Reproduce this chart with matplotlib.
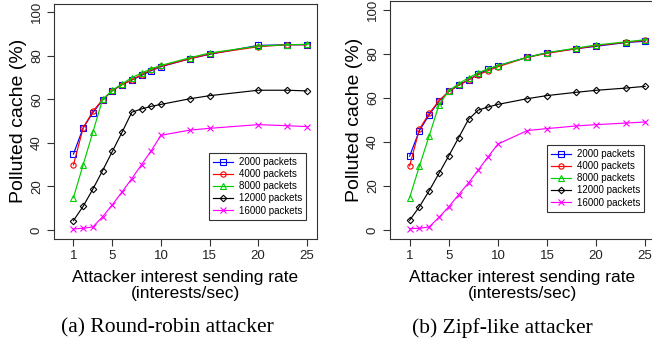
import numpy as np
import matplotlib.pyplot as plt

W, H = 652, 345

rates_a = [1, 2, 3, 4, 5, 6, 7, 8, 9, 10, 13, 15, 20, 23, 25]
rr_2000 = [34.9, 46.9, 53.9, 59.7, 64.0, 66.8, 68.9, 71.0, 73.2, 75.0, 78.7, 80.7, 84.8, 85.1, 85.1]
rr_4000 = [29.9, 46.9, 54.5, 59.9, 64.0, 66.8, 69.0, 71.4, 73.5, 75.2, 78.7, 80.9, 84.2, 85.1, 85.1]
rr_8000 = [14.9, 30.0, 45.0, 60.0, 64.2, 67.1, 70.0, 72.1, 74.1, 75.6, 79.2, 81.3, 84.5, 85.1, 85.3]
rr_12000 = [4.3, 10.9, 18.8, 27.3, 36.1, 44.9, 54.1, 55.6, 56.8, 57.7, 60.3, 61.7, 64.2, 64.2, 63.9]
rr_16000 = [0.5, 0.8, 1.4, 6.1, 11.6, 17.5, 23.6, 30.0, 36.4, 43.5, 45.9, 46.7, 48.4, 47.9, 47.5]

rates_b = [1, 2, 3, 4, 5, 6, 7, 8, 9, 10, 13, 15, 18, 20, 23, 25]
zp_2000 = [33.6, 45.2, 52.4, 58.6, 63.0, 65.8, 68.2, 70.9, 73.0, 74.7, 78.5, 80.6, 82.4, 83.5, 85.2, 85.8]
zp_4000 = [29.1, 45.9, 53.0, 58.8, 63.0, 65.8, 68.2, 70.6, 72.4, 74.2, 78.5, 80.3, 82.4, 83.8, 85.3, 86.2]
zp_8000 = [14.7, 29.1, 42.9, 57.0, 63.3, 66.5, 69.2, 71.5, 73.3, 74.7, 78.5, 80.6, 82.7, 84.1, 85.5, 86.5]
zp_12000 = [4.4, 10.6, 17.9, 25.8, 33.8, 42.0, 50.3, 54.5, 55.9, 57.1, 59.7, 61.1, 62.6, 63.5, 64.5, 65.3]
zp_16000 = [0.6, 0.8, 1.4, 5.8, 10.6, 16.1, 21.4, 27.3, 33.3, 39.1, 45.2, 46.1, 47.3, 47.9, 48.6, 49.1]

labels = ["2000 packets", "4000 packets", "8000 packets", "12000 packets", "16000 packets"]
colors = ["#0000ff", "#ff0000", "#00cd00", "#000000", "#ff00ff"]
markers = ["s", "o", "^", "D", "x"]
msizes = [3.8, 3.8, 4.5, 3.3, 3.8]

plt.rcParams['font.family'] = ['Liberation Sans', 'DejaVu Sans']


def px_axes(fig, left, right, top, bottom):
    return fig.add_axes([left / W, 1 - bottom / H, (right - left) / W, (bottom - top) / H])


def panel(ax, x, series, leg_box):
    for y, lab, c, m, ms in zip(series, labels, colors, markers, msizes):
        ax.plot(x, y, color=c, marker=m, markersize=ms, markerfacecolor='none',
                markeredgewidth=0.8, linewidth=0.85, label=lab)
    ax.set_xlim(-1, 26)
    ax.set_ylim(-4, 104)
    ax.set_xticks([1, 5, 10, 15, 20, 25])
    ax.set_yticks([0, 20, 40, 60, 80, 100])
    ax.tick_params(labelsize=9.5, length=5, width=0.8, direction='out', pad=3,
                   colors='#333333', labelcolor='#222222')
    for t in ax.get_yticklabels():
        t.set_rotation(90)
        t.set_va('center')
    for s in ax.spines.values():
        s.set_linewidth(0.8)
        s.set_color('#333333')
    ax.set_xlabel("Attacker interest sending rate\n(interests/sec)", fontsize=12.5,
                  linespacing=1.05, labelpad=6)
    ax.set_ylabel("Polluted cache (%)", fontsize=14, labelpad=3)
    leg = ax.legend(loc='lower left', bbox_to_anchor=leg_box, fontsize=7,
                    fancybox=False, edgecolor='#333333', framealpha=1,
                    borderpad=0.45, labelspacing=0.22, handlelength=2.0,
                    handletextpad=0.6, borderaxespad=0)
    leg.get_frame().set_linewidth(0.8)


fig = plt.figure(figsize=(W / 100, H / 100), dpi=100)

ax1 = px_axes(fig, 54, 316.5, 3.6, 238.7)
panel(ax1, rates_a, [rr_2000, rr_4000, rr_8000, rr_12000, rr_16000],
      ((209 - 54) / 262.5, (238.7 - 220) / 235.1))

ax2 = px_axes(fig, 390, 655, 1.2, 238.8)
panel(ax2, rates_b, [zp_2000, zp_4000, zp_8000, zp_12000, zp_16000],
      ((547 - 390) / 265, (238.8 - 212) / 237.6))

fig.text(167 / W, 1 - 328 / H, "(a) Round-robin attacker", ha='center', va='center',
         fontsize=15.5, family=['Liberation Serif', 'DejaVu Serif'])
fig.text(502 / W, 1 - 328 / H, "(b) Zipf-like attacker", ha='center', va='center',
         fontsize=15.5, family=['Liberation Serif', 'DejaVu Serif'])

fig.savefig("out.png", dpi=100)
